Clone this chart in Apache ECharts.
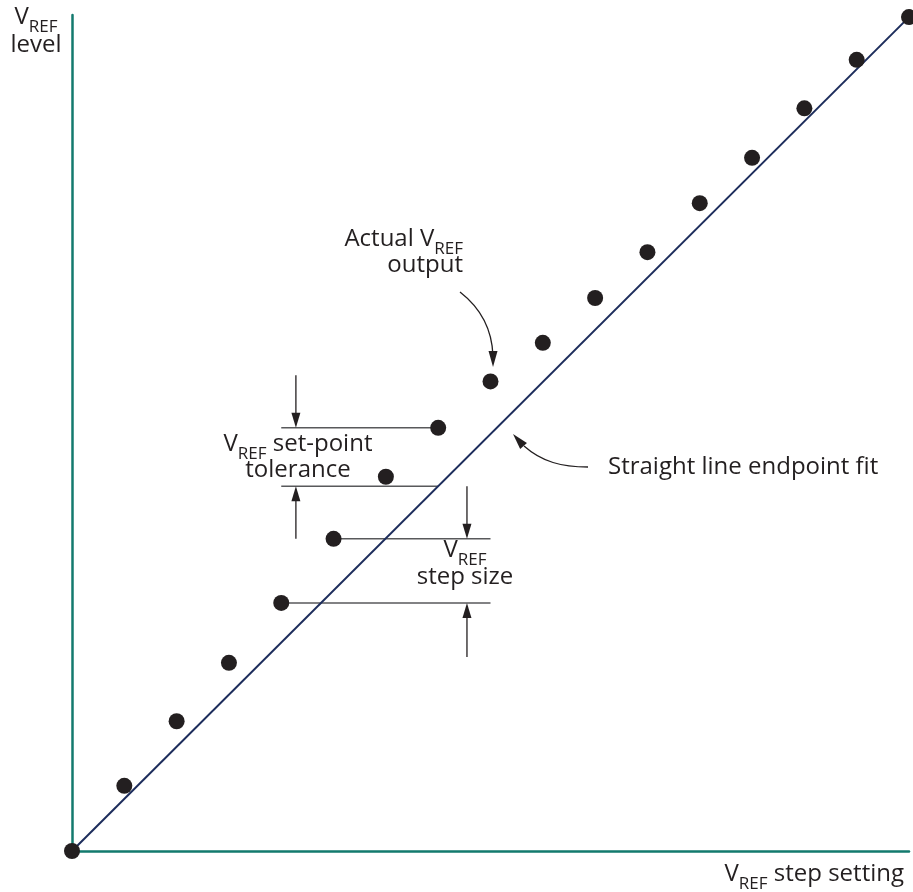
<!DOCTYPE html>
<html>
<head>
<meta charset="utf-8">
<script src="https://cdn.jsdelivr.net/npm/echarts@6/dist/echarts.min.js"></script>
<style>
  html, body { margin: 0; padding: 0; background: #fff; }
  #main { width: 913px; height: 892px; }
</style>
</head>
<body>
<div id="main"></div>
<script>
// VREF step setting (x) and measured VREF output level, in step units (y)
const steps = [0, 1, 2, 3, 4, 5, 6, 7, 8, 9, 10, 11, 12, 13, 14, 15, 16]
const actualLevel = [0, 1.25, 2.49, 3.61, 4.76, 5.99, 7.18, 8.12, 9.01, 9.75, 10.61, 11.49, 12.43, 13.30, 14.25, 15.18, 16]
// straight line endpoint fit: first and last point
const fitEnds = [[0, 0], [16, 16]]

// annotation guides: [xFrom, xTo, level]
const guides = [
  [4, 7, actualLevel[7]],   // set-point top
  [4, 7, 7],                // ideal level at step 7
  [5, 8, actualLevel[5]],   // step size top
  [4, 8, actualLevel[4]]    // step size bottom
]
// dimension arrows: [x, yFrom, yTo]
const arrows = [
  [4.28, 9.13, actualLevel[7]],
  [4.28, actualLevel[5], 7],
  [7.55, 7, actualLevel[5]],
  [7.55, 3.72, actualLevel[4]]
]

const FONT = '"Open Sans", "Noto Sans", sans-serif'
const INK = '#231f20'
const rich = {
  m: { fontSize: 24, fontFamily: FONT, color: INK, lineHeight: 40 },
  s: { fontSize: 17, fontFamily: FONT, color: INK, lineHeight: 18, padding: [20, 0, 0, 0] }
}

const chart = echarts.init(document.getElementById('main'))

const axisCommon = {
  type: 'value',
  axisLine: { show: true, onZero: false, lineStyle: { color: '#137a6e', width: 2.5 } },
  axisTick: { show: false },
  axisLabel: { show: false },
  splitLine: { show: false }
}

chart.setOption({
  animation: false,
  backgroundColor: '#fff',
  grid: { left: 72, right: 4, top: 15, bottom: 41 },
  xAxis: Object.assign({ min: 0, max: 16 }, axisCommon),
  yAxis: Object.assign({ min: 0, max: 16.04 }, axisCommon),
  series: [
    {
      type: 'line',
      data: fitEnds,
      showSymbol: false,
      silent: true,
      z: 2,
      lineStyle: { color: '#1d2d5c', width: 2 }
    },
    {
      type: 'scatter',
      data: steps.map((s, i) => [s, actualLevel[i]]),
      symbolSize: 16,
      clip: false,
      z: 3,
      itemStyle: { color: INK, opacity: 1 }
    }
  ]
})

const px = p => chart.convertToPixel({ gridIndex: 0 }, p)
const elements = []

guides.forEach(g => {
  const a = px([g[0], g[2]])
  const b = px([g[1], g[2]])
  elements.push({
    type: 'line', z: 1, silent: true,
    shape: { x1: a[0], y1: a[1], x2: b[0], y2: b[1] },
    style: { stroke: '#58595b', lineWidth: 1.5 }
  })
})

function arrowHead (tip, dx, dy, len, half) {
  const bx = tip[0] - dx * len
  const by = tip[1] - dy * len
  return {
    type: 'polygon', z: 1, silent: true,
    shape: { points: [tip, [bx - dy * half, by + dx * half], [bx + dy * half, by - dx * half]] },
    style: { fill: INK }
  }
}

arrows.forEach(a => {
  const p0 = px([a[0], a[1]])
  const p1 = px([a[0], a[2]])
  const dy = p1[1] > p0[1] ? 1 : -1
  elements.push({
    type: 'line', z: 1, silent: true,
    shape: { x1: p0[0], y1: p0[1], x2: p1[0], y2: p1[1] - dy * 10 },
    style: { stroke: INK, lineWidth: 1.3 }
  })
  elements.push(arrowHead(p1, 0, dy, 15, 4.5))
})

// curved callout arrows
elements.push({
  type: 'bezierCurve', z: 1, silent: true,
  shape: { x1: 460, y1: 292, cpx1: 478, cpy1: 306, cpx2: 492, cpy2: 325, x2: 493, y2: 356 },
  style: { stroke: INK, lineWidth: 1.3, fill: null }
})
elements.push(arrowHead([493, 367], 0, 1, 16, 4.5))
elements.push({
  type: 'bezierCurve', z: 1, silent: true,
  shape: { x1: 588, y1: 467, cpx1: 562, cpy1: 467, cpx2: 542, cpy2: 462, x2: 524, y2: 446 },
  style: { stroke: INK, lineWidth: 1.3, fill: null }
})
elements.push(arrowHead([513, 434], -0.66, -0.75, 16, 4.5))

function label (x, y, text, align) {
  elements.push({
    type: 'text', z: 5, silent: true,
    style: { x: x, y: y, text: text, rich: rich, align: align || 'center', verticalAlign: 'middle', font: '24px ' + FONT, fill: INK }
  })
}

label(36, 17, '{m|V}{s|REF}')
label(36, 45, '{m|level}')
label(463, 239, '{m|Actual V}{s|REF}', 'right')
label(463, 265, '{m|output}', 'right')
label(298, 444, '{m|V}{s|REF}{m| set-point}')
label(298, 470, '{m|tolerance}')
label(465, 550, '{m|V}{s|REF}')
label(465, 577, '{m|step size}')
label(608, 467, '{m|Straight line endpoint fit}', 'left')
label(904, 874, '{m|V}{s|REF}{m| step setting}', 'right')

chart.setOption({ graphic: { elements: elements } })
</script>
</body>
</html>
